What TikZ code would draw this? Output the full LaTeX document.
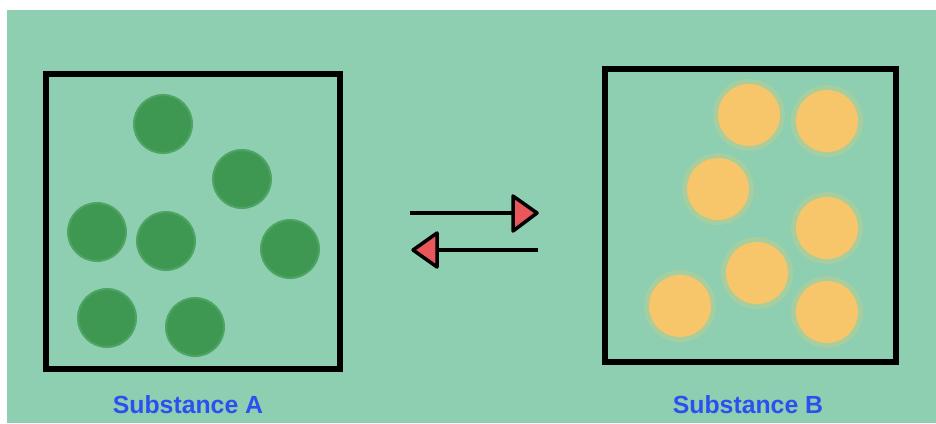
\documentclass[tikz,border=0pt]{standalone}
\usepackage{fontspec}
\setmainfont{Liberation Sans}
\definecolor{bg}{RGB}{141,207,176}
\definecolor{dgreen}{RGB}{62,152,82}
\definecolor{dgreenrim}{RGB}{78,164,99}
\definecolor{sun}{RGB}{247,198,106}
\definecolor{sunglow}{RGB}{200,205,140}
\definecolor{arrowred}{RGB}{232,88,90}
\definecolor{labelblue}{RGB}{43,80,240}
\tikzset{
  boxframe/.style={draw=black, line width=6pt},
  gball/.style={circle, fill=dgreen, draw=dgreenrim, line width=2pt, minimum size=58pt, inner sep=0pt},
  yball/.style={circle, fill=sun, minimum size=62pt, inner sep=0pt},
  yglow/.style={circle, fill=sunglow, fill opacity=0.45, minimum size=72pt, inner sep=0pt},
  arrline/.style={draw=black, line width=4pt},
  arrhead/.style={draw=black, fill=arrowred, line width=3.5pt, line join=round},
  lbl/.style={text=labelblue, font=\bfseries\fontsize{24.8}{28}\selectfont, inner sep=0pt}
}
\begin{document}
\begin{tikzpicture}[x=1pt,y=-1pt]
\useasboundingbox (0,0) rectangle (936,423);
\fill[white] (0,0) rectangle (936,423);
\fill[bg] (7,10) rectangle (936,423);
% boxes
\draw[boxframe] (46,74) rectangle (340,369);
\draw[boxframe] (605,69) rectangle (896,362);
% green balls
\node[gball] (g1) at (163,124) {};
\node[gball] (g2) at (242,179) {};
\node[gball] (g3) at (97,232) {};
\node[gball] (g4) at (166,241) {};
\node[gball] (g5) at (290,249) {};
\node[gball] (g6) at (107,318) {};
\node[gball] (g7) at (195,327) {};
% yellow balls glow
\foreach \p in {(749,115),(827,121),(718,189),(827,228),(757,273),(680,306),(827,312)}
  \node[yglow] at \p {};
\node[yball] (y1) at (749,115) {};
\node[yball] (y2) at (827,121) {};
\node[yball] (y3) at (718,189) {};
\node[yball] (y4) at (827,228) {};
\node[yball] (y5) at (757,273) {};
\node[yball] (y6) at (680,306) {};
\node[yball] (y7) at (827,312) {};
% arrows
\coordinate (f0) at (410,213);
\coordinate (f1) at (514,213);
\coordinate (b0) at (538,250);
\coordinate (b1) at (436,250);
\draw[arrline] (f0) -- (f1);
\draw[arrhead] (513,196) -- (537,213) -- (513,231) -- cycle;
\draw[arrline] (b0) -- (b1);
\draw[arrhead] (437,233) -- (413,250) -- (437,267) -- cycle;
% labels
\node[lbl] (la) at (188,405) {Substance A};
\node[lbl] (lb) at (748,405) {Substance B};
\end{tikzpicture}
\end{document}
